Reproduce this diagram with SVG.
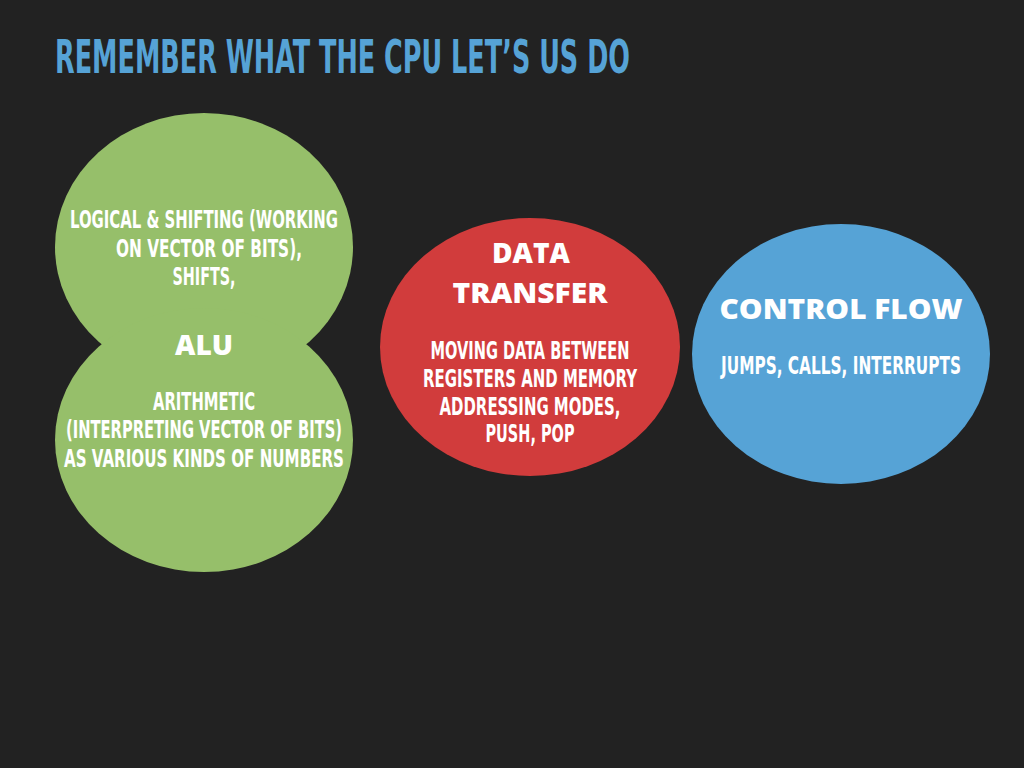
<svg xmlns="http://www.w3.org/2000/svg" width="1024" height="768" viewBox="0 0 1024 768">
<style>
.t{font-family:"DejaVu Sans Condensed","DejaVu Sans",sans-serif;font-weight:bold;font-stretch:condensed;fill:#ffffff;text-anchor:middle;font-size:25px}
.h{font-family:"Open Sans","Lato",sans-serif;font-weight:800;fill:#ffffff;text-anchor:middle;font-size:28px}
.title{font-family:"DejaVu Sans Condensed","DejaVu Sans",sans-serif;font-weight:bold;font-stretch:condensed;fill:#56a3d6;font-size:46px}
</style>
<rect width="1024" height="768" fill="#222222"/>
<text class="title" x="55" y="73" textLength="575" lengthAdjust="spacingAndGlyphs">REMEMBER WHAT THE CPU LET’S US DO</text>
<g id="alu">
<ellipse cx="204" cy="247" rx="149" ry="134" fill="#96bf6a"/>
<ellipse cx="204" cy="440" rx="149" ry="132" fill="#96bf6a"/>
<text class="t" x="204" y="228" textLength="268" lengthAdjust="spacingAndGlyphs">LOGICAL &amp; SHIFTING (WORKING</text>
<text class="t" x="209" y="257" textLength="186" lengthAdjust="spacingAndGlyphs">ON VECTOR OF BITS),</text>
<text class="t" x="204" y="285" textLength="63" lengthAdjust="spacingAndGlyphs">SHIFTS,</text>
<text class="h" x="204" y="355" font-size="25" textLength="58" lengthAdjust="spacingAndGlyphs">ALU</text>
<text class="t" x="204" y="410" textLength="102" lengthAdjust="spacingAndGlyphs">ARITHMETIC</text>
<text class="t" x="204" y="438" textLength="276" lengthAdjust="spacingAndGlyphs">(INTERPRETING VECTOR OF BITS)</text>
<text class="t" x="204" y="467" textLength="280" lengthAdjust="spacingAndGlyphs">AS VARIOUS KINDS OF NUMBERS</text>
</g>
<g id="data-transfer">
<ellipse cx="530" cy="347" rx="150" ry="129" fill="#d13c3c"/>
<text class="h" x="531" y="263" textLength="78" lengthAdjust="spacingAndGlyphs">DATA</text>
<text class="h" x="530" y="303" textLength="155" lengthAdjust="spacingAndGlyphs">TRANSFER</text>
<text class="t" x="530" y="359" textLength="199" lengthAdjust="spacingAndGlyphs">MOVING DATA BETWEEN</text>
<text class="t" x="530" y="387" textLength="214" lengthAdjust="spacingAndGlyphs">REGISTERS AND MEMORY</text>
<text class="t" x="530" y="415" textLength="181" lengthAdjust="spacingAndGlyphs">ADDRESSING MODES,</text>
<text class="t" x="530" y="442" textLength="89" lengthAdjust="spacingAndGlyphs">PUSH, POP</text>
</g>
<g id="control-flow">
<ellipse cx="841" cy="354" rx="149" ry="130" fill="#56a3d6"/>
<text class="h" x="841" y="319" textLength="243" lengthAdjust="spacingAndGlyphs">CONTROL FLOW</text>
<text class="t" x="841" y="374" textLength="240" lengthAdjust="spacingAndGlyphs">JUMPS, CALLS, INTERRUPTS</text>
</g>
<g id="connectors"/>
</svg>
